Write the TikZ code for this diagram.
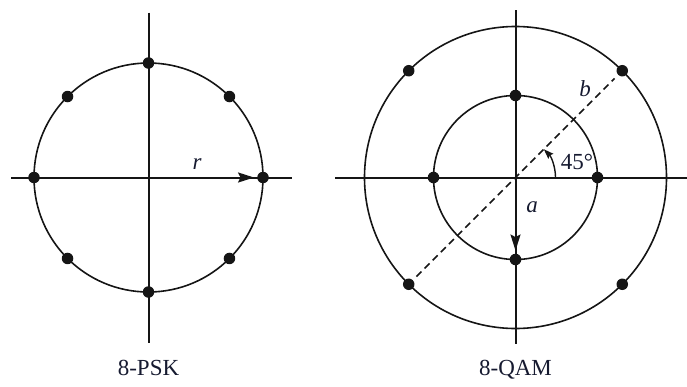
\documentclass[tikz,border=0pt]{standalone}
\usepackage{fontspec}
\setmainfont{Liberation Serif}
\usetikzlibrary{arrows.meta,calc}
\definecolor{ink}{HTML}{151515}
\definecolor{txt}{HTML}{161A30}
\begin{document}
\begin{tikzpicture}[x=1pt,y=-1pt,
  axis/.style={draw=ink,line width=2pt},
  ring/.style={draw=ink,line width=1.6pt},
  dot/.style={circle,fill=ink,inner sep=0pt,minimum size=11.5pt},
  lbl/.style={text=txt,font=\fontsize{23}{25}\selectfont,inner sep=0pt},
  ilbl/.style={lbl,font=\fontsize{23}{25}\selectfont\itshape},
  tip/.style={-{Stealth[length=16pt,width=10pt,inset=2.5pt]}},
  ]
\useasboundingbox (0,0) rectangle (687,386);
% ---------- 8-PSK ----------
\coordinate (pc) at (148.5,177.5);
\coordinate (pT) at (148.5,12.5);
\coordinate (pB) at (148.5,343);
\coordinate (pL) at (11,177.5);
\coordinate (pR) at (292,177.5);
\draw[axis] (pT) -- (pB);
\draw[axis] (pL) -- (pR);
\draw[ring] (pc) circle[radius=114.5];
\foreach \a/\n in {0/p0,45/p1,90/p2,135/p3,180/p4,225/p5,270/p6,315/p7}
  \node[dot] (\n) at ($(pc)+(\a:114.5 and -114.5)$) {};
\draw[ink,line width=2pt,tip,shorten >=3pt] (pc) -- (p0);
\node[ilbl] (rl) at (197,164) {r};
\node[lbl,anchor=base] (psk) at (148.5,375) {8-PSK};
% ---------- 8-QAM ----------
\coordinate (qc) at (515.5,177.5);
\coordinate (qT) at (515.5,10);
\coordinate (qB) at (515.5,344);
\coordinate (qL) at (335,177.5);
\coordinate (qR) at (687,177.5);
\draw[axis] (qT) -- (qB);
\draw[axis] (qL) -- (qR);
\draw[ring] (qc) circle[radius=151];
\draw[ring] (qc) circle[radius=82];
\foreach \a/\n in {0/i0,90/i1,180/i2,270/i3}
  \node[dot] (\n) at ($(qc)+(\a:82 and -82)$) {};
\foreach \a/\n in {45/o1,135/o2,225/o3,315/o4}
  \node[dot] (\n) at ($(qc)+(\a:151 and -151)$) {};
\draw[ink,line width=1.5pt,dash pattern=on 7pt off 4.5pt,shorten <=5pt,shorten >=5pt] (o3) -- (o1);
\draw[ink,line width=2pt,tip,shorten >=3pt] (qc) -- (i3);
\draw[ink,line width=1.4pt,-{Stealth[length=10pt,width=7pt,inset=1.5pt]}] ($(qc)+(40,0)$) arc[start angle=0,end angle=-45,radius=40];
\node[lbl] (deg) at (577,162) {45°};
\node[ilbl] (al) at (532,207) {a};
\node[ilbl] (bl) at (585,89) {b};
\node[lbl,anchor=base] (qam) at (515.5,375) {8-QAM};
\end{tikzpicture}
\end{document}
